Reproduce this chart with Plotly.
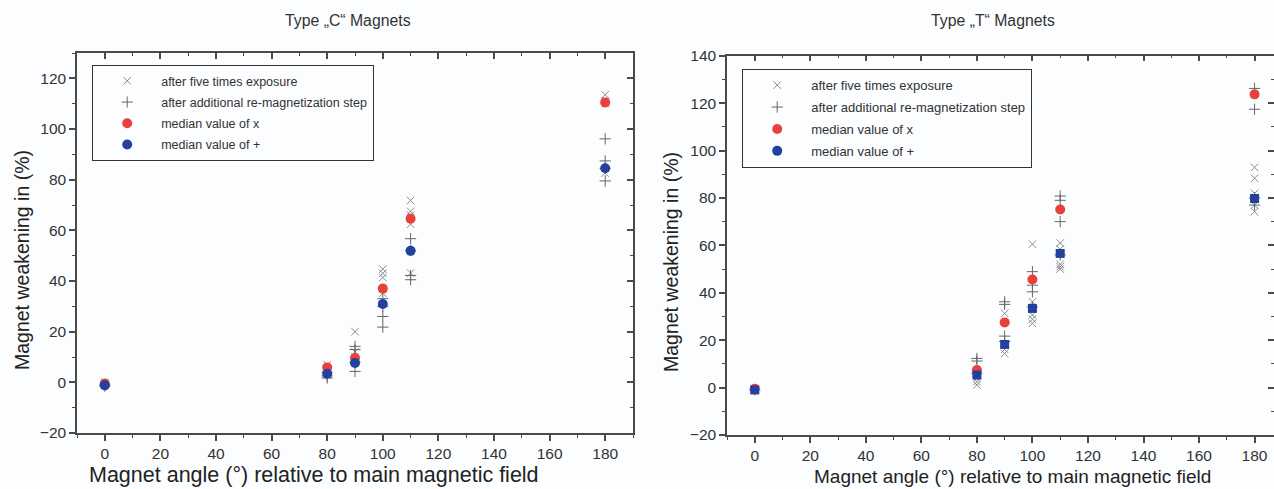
import plotly.graph_objects as go

# ---------------- data: Type "C" magnets ----------------
c_exposure_angle = [0, 0, 80, 80, 80, 80, 90, 90, 90, 90, 100, 100, 100, 100, 100,
                    110, 110, 110, 110, 110, 180, 180, 180, 180]
c_exposure_value = [0, -0.8, 7, 5, 4, 3, 20, 12, 10, 9, 44.7, 43, 41.4, 37, 35.2,
                    71.8, 67.5, 66, 62.4, 43.1, 113.5, 111, 110, 82.6]
c_remag_angle = [0, 0, 80, 80, 80, 90, 90, 90, 90, 100, 100, 100, 100,
                 110, 110, 110, 110, 180, 180, 180, 180]
c_remag_value = [-1, -1.5, 4, 2.5, 1.7, 14.2, 12.9, 8, 4.3, 33, 30, 26, 21.8,
                 56.7, 52, 42.2, 40.5, 96.1, 87.4, 84.5, 79.5]
c_median_angle = [0, 80, 90, 100, 110, 180]
c_median_exposure = [-0.5, 5.9, 9.6, 37, 64.6, 110.5]
c_median_remag = [-1.2, 3.4, 7.6, 30.9, 51.9, 84.5]

# ---------------- data: Type "T" magnets ----------------
t_exposure_angle = [0, 0, 80, 80, 80, 90, 90, 90, 100, 100, 100, 100, 100,
                    110, 110, 110, 110, 110, 180, 180, 180, 180, 180]
t_exposure_value = [-1, -0.5, 3.9, 2.5, 1.1, 31.3, 16.1, 14.4, 60.5, 36.2, 30.6, 28.8, 27.1,
                    61, 58.4, 52, 51, 50, 92.9, 88.3, 81.9, 77, 74.2]
t_remag_angle = [0, 80, 80, 80, 90, 90, 90, 90, 100, 100, 100, 100,
                 110, 110, 110, 110, 180, 180, 180, 180]
t_remag_value = [-1, 12.3, 11.2, 6, 36.2, 35.1, 21.7, 19.5, 48.9, 43.2, 40.4, 34,
                 80.8, 79, 70, 56, 126.2, 117.4, 80, 77]
t_median_angle = [0, 80, 90, 100, 110, 180]
t_median_exposure = [-0.5, 7.4, 27.5, 45.6, 75.1, 123.7]
t_median_remag = [-1, 5.3, 18.2, 33.4, 56.6, 79.8]

titles = ['Type \u201eC\u201c Magnets', 'Type \u201eT\u201c Magnets']
legend_names = ['after five times exposure', 'after additional re-magnetization step',
                'median value of x', 'median value of +']
x_title = 'Magnet angle (\u00b0) relative to main magnetic field'
y_title = 'Magnet weakening in (%)'

W, H = 1274, 489
FONT = 'Liberation Sans, Arial, sans-serif'
RED = '#e8403a'
BLUE = '#22409c'
XGRAY = '#8c8c8c'
PGRAY = '#666666'
AXC = '#4a4a4a'
BG = '#fbfdfe'

def px_x(p):
    return p / W

def px_y(p):
    return 1 - p / H

fig = go.Figure()

panels = [
    dict(xa='x', ya='y', leg='legend',
         ex=(c_exposure_angle, c_exposure_value), rm=(c_remag_angle, c_remag_value),
         med=(c_median_angle, c_median_exposure, c_median_remag), blue_sym='circle'),
    dict(xa='x2', ya='y2', leg='legend2',
         ex=(t_exposure_angle, t_exposure_value), rm=(t_remag_angle, t_remag_value),
         med=(t_median_angle, t_median_exposure, t_median_remag), blue_sym='square'),
]

for i, p in enumerate(panels):
    fig.add_trace(go.Scatter(x=p['ex'][0], y=p['ex'][1], mode='markers', name=legend_names[0],
                             marker=dict(symbol='x-thin-open', size=7.5, color=XGRAY,
                                         line=dict(color=XGRAY, width=1)),
                             xaxis=p['xa'], yaxis=p['ya'], legend=p['leg'], legendgroup=f'a{i}'))
    fig.add_trace(go.Scatter(x=p['rm'][0], y=p['rm'][1], mode='markers', name=legend_names[1],
                             marker=dict(symbol='cross-thin-open', size=8, color=PGRAY,
                                         line=dict(color=PGRAY, width=1)),
                             xaxis=p['xa'], yaxis=p['ya'], legend=p['leg'], legendgroup=f'b{i}'))
    fig.add_trace(go.Scatter(x=p['med'][0], y=p['med'][1], mode='markers', name=legend_names[2],
                             marker=dict(symbol='circle', size=10, color=RED),
                             xaxis=p['xa'], yaxis=p['ya'], legend=p['leg'], legendgroup=f'c{i}'))
    if p['blue_sym'] == 'circle':
        fig.add_trace(go.Scatter(x=p['med'][0], y=p['med'][2], mode='markers', name=legend_names[3],
                                 marker=dict(symbol='circle', size=10, color=BLUE),
                                 xaxis=p['xa'], yaxis=p['ya'], legend=p['leg'], legendgroup=f'd{i}'))
    else:
        fig.add_trace(go.Scatter(x=p['med'][0], y=p['med'][2], mode='markers', name=legend_names[3],
                                 marker=dict(symbol='square', size=9, color=BLUE), showlegend=False,
                                 xaxis=p['xa'], yaxis=p['ya'], legend=p['leg'], legendgroup=f'd{i}'))
        fig.add_trace(go.Scatter(x=[None], y=[None], mode='markers', name=legend_names[3],
                                 marker=dict(symbol='circle', size=10, color=BLUE),
                                 xaxis=p['xa'], yaxis=p['ya'], legend=p['leg'], legendgroup=f'd{i}'))

# helper traces for the mirrored (inside tick) axes
for xa, ya in [('x3', 'y'), ('x', 'y3'), ('x4', 'y2'), ('x2', 'y4')]:
    fig.add_trace(go.Scatter(x=[None], y=[None], xaxis=xa, yaxis=ya, showlegend=False,
                             hoverinfo='skip'))

dom_c_x = [px_x(77), px_x(633)]
dom_c_y = [px_y(433), px_y(53)]
dom_t_x = [px_x(727), 1.0]
dom_t_y = [px_y(435), px_y(55.7)]
xr_c = [-10, 190]
xr_t = [-10, 187]
yr_c = [-20, 130]
yr_t = [-20, 140]

tickfont = dict(family=FONT, size=15.5, color='#333333')

def axis(dom, rng, anchor, side, labels=True, overlay=None, ticks='outside'):
    d = dict(domain=dom, range=rng, anchor=anchor, side=side, showgrid=False, zeroline=False,
             showline=True, linecolor=AXC, linewidth=1.5, ticks=ticks, ticklen=6, tickwidth=1.5,
             tickcolor=AXC, dtick=20, tick0=0, showticklabels=labels, tickfont=tickfont,
             minor=dict(dtick=10, tick0=0, ticks=ticks, ticklen=3, tickwidth=1.2, tickcolor=AXC),
             automargin=False, fixedrange=True)
    if overlay:
        d['overlaying'] = overlay
    return d

legend_common = dict(bgcolor='rgba(255,255,255,0)',
                     bordercolor='#333333', borderwidth=1.2, xanchor='left', yanchor='top',
                     traceorder='grouped', tracegroupgap=2, itemwidth=58, entrywidthmode='pixels')

fig.update_layout(
    width=W, height=H, margin=dict(l=0, r=0, t=0, b=0),
    paper_bgcolor=BG, plot_bgcolor=BG,
    font=dict(family=FONT, color='#333333'),
    showlegend=True,
    xaxis=axis(dom_c_x, xr_c, 'y', 'bottom'),
    yaxis=axis(dom_c_y, yr_c, 'x', 'left'),
    xaxis3=axis(dom_c_x, xr_c, 'y', 'top', labels=False, overlay='x', ticks='inside'),
    yaxis3=axis(dom_c_y, yr_c, 'x', 'right', labels=False, overlay='y', ticks='inside'),
    xaxis2=axis(dom_t_x, xr_t, 'y2', 'bottom'),
    yaxis2=axis(dom_t_y, yr_t, 'x2', 'left'),
    xaxis4=axis(dom_t_x, xr_t, 'y2', 'top', labels=False, overlay='x2', ticks='inside'),
    yaxis4=axis(dom_t_y, yr_t, 'x2', 'right', labels=False, overlay='y2', ticks='inside'),
    legend=dict(x=px_x(92), y=px_y(65), entrywidth=226,
                font=dict(family=FONT, size=12.5, color='#333333'), **legend_common),
    legend2=dict(x=px_x(742), y=px_y(69), entrywidth=246,
                 font=dict(family=FONT, size=13, color='#333333'), **legend_common),
)

ann = []
for cx, t in [(348, titles[0]), (993, titles[1])]:
    ann.append(dict(text=t, x=px_x(cx), y=px_y(20), xref='paper', yref='paper', showarrow=False,
                    xanchor='center', yanchor='middle', font=dict(family=FONT, size=15.8, color='#333333')))
for cx, fs, cy in [(314, 21.5, 475), (1012, 19, 476)]:
    ann.append(dict(text=x_title, x=px_x(cx), y=px_y(cy), xref='paper', yref='paper', showarrow=False,
                    xanchor='center', yanchor='middle', font=dict(family=FONT, size=fs, color='#222222')))
for cx, cy, fs in [(22, 260, 19.5), (671, 262, 19.5)]:
    ann.append(dict(text=y_title, x=px_x(cx), y=px_y(cy), xref='paper', yref='paper', showarrow=False,
                    xanchor='center', yanchor='middle', textangle=-90,
                    font=dict(family=FONT, size=fs, color='#222222')))
fig.update_layout(annotations=ann)

fig.write_html('out.html', config={'displayModeBar': False},
               post_script="document.body.style.margin='0px';document.body.style.overflow='hidden';")
